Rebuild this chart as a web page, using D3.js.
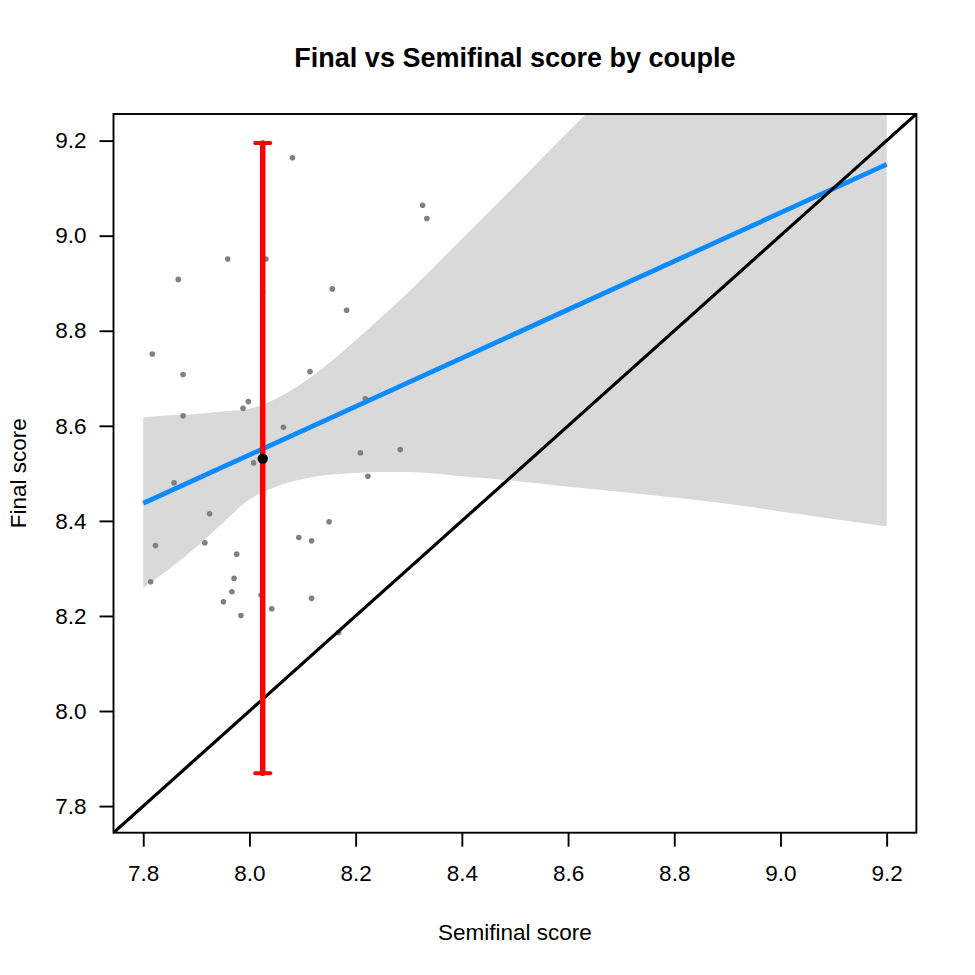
<!DOCTYPE html>
<html>
<head>
<meta charset="utf-8">
<script src="https://cdn.jsdelivr.net/npm/d3@7"></script>
<style>
  html, body { margin: 0; padding: 0; background: #fff; }
  svg { display: block; font-family: "Liberation Sans", Arial, Helvetica, sans-serif; }
</style>
</head>
<body>
<svg id="chart" width="975" height="975"></svg>
<script>
// ---- data ----
const semifinal = [8.081, 7.959, 8.031, 7.866, 8.025, 8.326, 8.334, 8.156, 8.183, 7.817,
                   7.875, 8.114, 7.998, 7.988, 7.875, 8.064, 8.008, 7.858, 7.925, 8.150,
                   8.218, 8.209, 8.284, 8.223, 7.823, 7.916, 7.976, 7.971, 7.814, 7.967,
                   7.951, 8.022, 8.042, 7.984, 8.093, 8.117, 8.117, 8.168];
const finalScore = [9.164, 8.951, 8.951, 8.908, 8.883, 9.064, 9.036, 8.888, 8.843, 8.751,
                    8.708, 8.714, 8.651, 8.637, 8.621, 8.597, 8.522, 8.480, 8.415, 8.398,
                    8.657, 8.543, 8.550, 8.494, 8.348, 8.354, 8.330, 8.279, 8.272, 8.251,
                    8.230, 8.244, 8.215, 8.201, 8.365, 8.358, 8.237, 8.165];

const bandX     = [7.8, 7.85, 7.9, 7.95, 8.0, 8.05, 8.1, 8.15, 8.2, 8.25, 8.3, 8.4, 8.5, 8.6, 8.7, 8.8, 8.9, 9.0, 9.1, 9.2];
const bandLower = [8.259, 8.300, 8.345, 8.396, 8.445, 8.472, 8.488, 8.497, 8.501, 8.503, 8.503, 8.494, 8.484, 8.472, 8.461, 8.449, 8.436, 8.420, 8.404, 8.388];
const bandUpper = [8.618, 8.622, 8.625, 8.630, 8.636, 8.657, 8.690, 8.732, 8.780, 8.830, 8.882, 8.993, 9.105, 9.218, 9.330, 9.444, 9.558, 9.675, 9.792, 9.912];

const fitX = [7.8, 9.2];
const fitY = [8.437, 9.150];

const meanX = 8.025, meanY = 8.531;
const barLow = 7.869, barHigh = 9.195;

const tickValues = [7.8, 8.0, 8.2, 8.4, 8.6, 8.8, 9.0, 9.2];
const axisMin = 7.744, axisMax = 9.256;

const titleText = "Final vs Semifinal score by couple";
const xLabel = "Semifinal score";
const yLabel = "Final score";

// ---- layout ----
const mLeft = 113.5, mRight = 916.4, mTop = 114, mBottom = 832.7;
const svg = d3.select("#chart");

const x = d3.scaleLinear().domain([axisMin, axisMax]).range([mLeft, mRight]);
const y = d3.scaleLinear().domain([axisMin, axisMax]).range([mBottom, mTop]);

svg.append("defs").append("clipPath").attr("id", "plotclip")
  .append("rect").attr("x", mLeft).attr("y", mTop)
  .attr("width", mRight - mLeft).attr("height", mBottom - mTop);

const plot = svg.append("g").attr("clip-path", "url(#plotclip)");

// confidence band
const bandData = bandX.map((d, i) => ({x: d, lo: bandLower[i], hi: bandUpper[i]}));
plot.append("path")
  .datum(bandData)
  .attr("fill", "#d9d9d9")
  .attr("d", d3.area().curve(d3.curveMonotoneX)
    .x(d => x(d.x)).y0(d => y(d.lo)).y1(d => y(d.hi)));

// points
plot.selectAll("circle.pt")
  .data(semifinal.map((d, i) => [d, finalScore[i]]))
  .join("circle")
  .attr("class", "pt")
  .attr("cx", d => x(d[0])).attr("cy", d => y(d[1]))
  .attr("r", 2.8).attr("fill", "#808080");

// fit line
plot.append("path")
  .datum(fitX.map((d, i) => [d, fitY[i]]))
  .attr("fill", "none").attr("stroke", "#0c8bff").attr("stroke-width", 4.8)
  .attr("d", d3.line().x(d => x(d[0])).y(d => y(d[1])));

// identity line
plot.append("path")
  .datum([[axisMin, axisMin], [axisMax, axisMax]])
  .attr("fill", "none").attr("stroke", "#000").attr("stroke-width", 3.2)
  .attr("d", d3.line().x(d => x(d[0])).y(d => y(d[1])));

// error bar
const eb = svg.append("g").attr("stroke", "#ff0000").attr("stroke-linecap", "round");
eb.append("line").attr("x1", x(meanX)).attr("x2", x(meanX))
  .attr("y1", y(barLow)).attr("y2", y(barHigh)).attr("stroke-width", 5.5);
[barLow, barHigh].forEach(v => {
  eb.append("line").attr("x1", x(meanX) - 7.5).attr("x2", x(meanX) + 7.5)
    .attr("y1", y(v)).attr("y2", y(v)).attr("stroke-width", 4);
});

// mean point
svg.append("circle").attr("cx", x(meanX)).attr("cy", y(meanY))
  .attr("r", 5.2).attr("fill", "#000");

// box
svg.append("rect").attr("x", mLeft).attr("y", mTop)
  .attr("width", mRight - mLeft).attr("height", mBottom - mTop)
  .attr("fill", "none").attr("stroke", "#000").attr("stroke-width", 1.9);

// axes
const xAxis = svg.append("g").attr("transform", `translate(0,${mBottom})`)
  .call(d3.axisBottom(x).tickValues(tickValues).tickFormat(d3.format(".1f"))
    .tickSize(14).tickPadding(18));
const yAxis = svg.append("g").attr("transform", `translate(${mLeft},0)`)
  .call(d3.axisLeft(y).tickValues(tickValues).tickFormat(d3.format(".1f"))
    .tickSize(14).tickPadding(13));
[xAxis, yAxis].forEach(g => {
  g.select(".domain").remove();
  g.selectAll(".tick line").attr("stroke", "#000").attr("stroke-width", 1.9);
  g.selectAll(".tick text").attr("fill", "#000")
    .style("font-size", "22.5px")
    .style("font-family", '"Liberation Sans", Arial, Helvetica, sans-serif');
});

// title and labels
svg.append("text").attr("x", (mLeft + mRight) / 2).attr("y", 58)
  .attr("text-anchor", "middle").attr("dominant-baseline", "central")
  .style("font-size", "27px").style("font-weight", "bold").text(titleText);
svg.append("text").attr("x", (mLeft + mRight) / 2).attr("y", 932)
  .attr("text-anchor", "middle").attr("dominant-baseline", "central")
  .style("font-size", "22.5px").text(xLabel);
svg.append("text")
  .attr("transform", `translate(18,${(mTop + mBottom) / 2}) rotate(-90)`)
  .attr("text-anchor", "middle").attr("dominant-baseline", "central")
  .style("font-size", "22.5px").text(yLabel);
</script>
</body>
</html>
